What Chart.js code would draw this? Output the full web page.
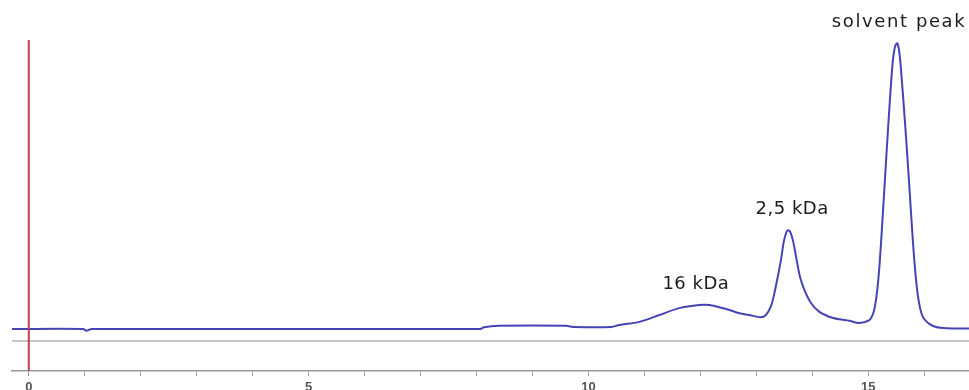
<!DOCTYPE html>
<html>
<head>
<meta charset="utf-8">
<script src="https://cdn.jsdelivr.net/npm/chart.js@4/dist/chart.umd.min.js"></script>
<style>
  html, body { margin: 0; padding: 0; background: #fff; overflow: hidden; }
  #wrap { width: 969px; height: 390px; position: relative; }
</style>
</head>
<body>
<div id="wrap"><canvas id="chromatogram"></canvas></div>
<script>
// Retention time (min) and detector signal of the size-exclusion run
const retentionTime = [
  -0.30, 0.97, 1.03, 1.12, 8.07, 8.13, 8.40, 9.60, 9.75, 10.41,
  10.55, 10.91, 11.27, 11.62, 11.98, 12.16, 12.46, 12.70, 12.87, 13.08,
  13.17, 13.26, 13.32, 13.38, 13.44, 13.49, 13.54, 13.575, 13.61, 13.66,
  13.72, 13.78, 13.86, 13.98, 14.12, 14.30, 14.48, 14.66, 14.84, 15.02,
  15.08, 15.12, 15.16, 15.20, 15.25, 15.30, 15.35, 15.40, 15.44, 15.48,
  15.52, 15.56, 15.60, 15.65, 15.70, 15.75, 15.80, 15.85, 15.90, 15.95,
  16.00, 16.09, 16.21, 16.40, 16.80
];
const signal = [
  0.0, 0.0, -0.6, 0.0, 0.0, 0.6, 1.1, 1.1, 0.7, 0.7,
  1.4, 2.5, 4.9, 7.3, 8.4, 8.4, 7.0, 5.5, 4.9, 4.1,
  4.9, 7.9, 12.3, 18.0, 24.2, 30.5, 34.0, 34.6, 33.8, 30.5,
  24.2, 18.3, 13.6, 9.0, 6.1, 4.3, 3.4, 2.9, 2.1, 3.1,
  5.0, 8.0, 13.5, 22.0, 37.0, 53.0, 69.0, 84.0, 94.0, 99.0,
  100.0, 96.0, 87.0, 74.0, 60.0, 45.0, 30.0, 18.0, 10.0, 5.5,
  3.5, 1.8, 0.7, 0.3, 0.2
];

// Axis ticks (every minute, labelled every five)
const xTicks = [0, 1, 2, 3, 4, 5, 6, 7, 8, 9, 10, 11, 12, 13, 14, 15, 16];
const xRange = [-0.3, 16.8];
const yRange = [-14.7, 115.16];

// Injection marker and zero reference
const injectionTime = 0;
const injectionTop = 101.2;
const referenceLevel = -4.2;

// Peak annotations
const peakLabels = ['16 kDa', '2,5 kDa', 'solvent peak'];
const labelTimes = [11.92, 13.64, 15.55];

const tracePoints = retentionTime.map((t, i) => ({ x: t, y: signal[i] }));

// Peak height under each label: highest signal within the label's window
function peakHeightNear(t) {
  let best = -Infinity;
  retentionTime.forEach((rt, i) => {
    if (Math.abs(rt - t) < 0.4 && signal[i] > best) best = signal[i];
  });
  return best;
}

const peakLabelPlugin = {
  id: 'peakLabels',
  afterDatasetsDraw(chart, args, opts) {
    const { ctx, scales: { x, y } } = chart;
    ctx.save();
    ctx.fillStyle = opts.color;
    ctx.textAlign = 'center';
    ctx.textBaseline = 'alphabetic';
    peakLabels.forEach((txt, i) => {
      ctx.font = opts.fonts[i];
      if ('letterSpacing' in ctx) ctx.letterSpacing = opts.spacing[i];
      const px = x.getPixelForValue(labelTimes[i]);
      const py = y.getPixelForValue(peakHeightNear(labelTimes[i])) - opts.gap;
      ctx.fillText(txt, px, py);
    });
    ctx.restore();
  }
};

new Chart(document.getElementById('chromatogram'), {
  type: 'line',
  data: {
    datasets: [
      {
        label: 'injection',
        data: [{ x: injectionTime, y: injectionTop }, { x: injectionTime, y: yRange[0] }],
        borderColor: '#bb4452',
        borderWidth: 2,
        pointRadius: 0,
        fill: false
      },
      {
        label: 'signal',
        data: tracePoints,
        borderColor: '#4644b4',
        borderWidth: 2,
        pointRadius: 0,
        tension: 0.3,
        fill: false
      },
      {
        label: 'reference',
        data: [{ x: xRange[0], y: referenceLevel }, { x: xRange[1], y: referenceLevel }],
        borderColor: '#b4b4b4',
        borderWidth: 1.3,
        pointRadius: 0,
        fill: false
      }
    ]
  },
  options: {
    responsive: true,
    maintainAspectRatio: false,
    animation: false,
    layout: { padding: { left: 12, right: 0, top: 0, bottom: 0 } },
    plugins: {
      legend: { display: false },
      tooltip: { enabled: false },
      peakLabels: {
        color: '#1c1c1c',
        fonts: ['18px "DejaVu Sans", sans-serif', '18px "DejaVu Sans", sans-serif', '18px "DejaVu Sans", sans-serif'],
        spacing: ['0.5px', '0.5px', '1.6px'],
        gap: 16
      }
    },
    scales: {
      x: {
        type: 'linear',
        min: xRange[0],
        max: xRange[1],
        afterBuildTicks(scale) { scale.ticks = xTicks.map(v => ({ value: v })); },
        afterFit(scale) { scale.height = 19; },
        ticks: {
          autoSkip: false,
          maxRotation: 0,
          padding: 4,
          color: '#555',
          font: { family: '"Liberation Sans", Arial, sans-serif', size: 13, weight: 'bold' },
          callback: v => (v % 5 === 0 ? String(v) : '')
        },
        grid: {
          drawOnChartArea: false,
          drawTicks: true,
          tickLength: 5,
          tickColor: '#999',
          tickWidth: 1
        },
        border: { display: true, color: '#999', width: 1.6 }
      },
      y: {
        display: false,
        min: yRange[0],
        max: yRange[1]
      }
    }
  },
  plugins: [peakLabelPlugin]
});
</script>
</body>
</html>
